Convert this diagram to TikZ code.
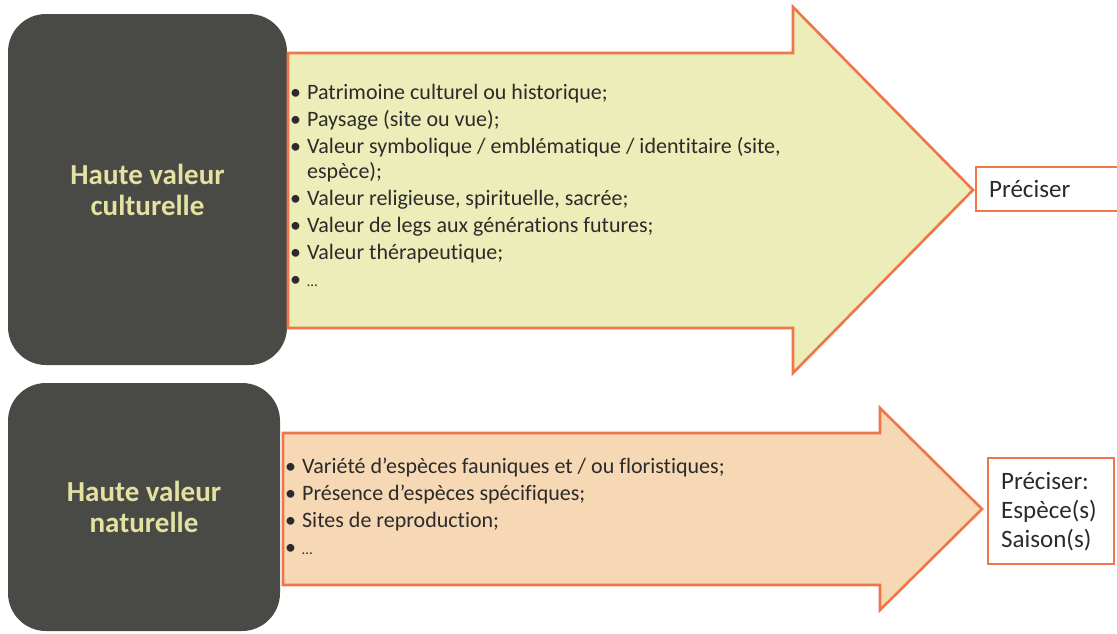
\documentclass[tikz,border=0pt]{standalone}
\usepackage{fontspec}
\setmainfont{Carlito}[Ligatures=NoCommon]
\definecolor{darkfill}{HTML}{494A45}
\definecolor{titlecol}{HTML}{E4E2A2}
\definecolor{orangeline}{HTML}{EF7649}
\definecolor{yelfill}{HTML}{EDEDB9}
\definecolor{peachfill}{HTML}{F6D8B4}
\definecolor{txtcol}{HTML}{2B2B2B}
\begin{document}
\begin{tikzpicture}[x=1pt,y=-1pt,
  darkbox/.style={fill=darkfill, rounded corners=38pt, text=titlecol, inner sep=0pt,
    font=\bfseries\fontsize{29}{31}\selectfont, align=center},
  arrowshape/.style={draw=orangeline, line width=2.6pt, line join=miter},
  listtxt/.style={text=txtcol, inner sep=0pt, font=\fontsize{22}{27}\selectfont},
  precbox/.style={draw=orangeline, line width=2.4pt, fill=white, text=txtcol,
    inner xsep=13pt, inner ysep=0pt, align=left, font=\fontsize{25}{29}\selectfont}]
\useasboundingbox (0,0) rectangle (1117,633);
\fill[white] (0,0) rectangle (1117,633);

% top row
\node[darkbox, minimum width=279pt, minimum height=351pt] (hvc) at (147.5,189.5) {Haute valeur\\culturelle};
\draw[arrowshape, fill=yelfill] (288,53) -- (793,53) -- (793,7) -- (973,190) -- (793,373) -- (793,328) -- (288,328) -- cycle;
\node[listtxt, anchor=base west] (l1) at (290,99) {%
  \begin{tabular}[t]{@{}l@{\hspace{6pt}}l@{}}
  \textbullet & Patrimoine culturel ou historique;\\
  \textbullet & Paysage (site ou vue);\\
  \textbullet & Valeur symbolique / emblématique / identitaire (site,\\[-2pt]
              & espèce);\\
  \textbullet & Valeur religieuse, spirituelle, sacrée;\\
  \textbullet & Valeur de legs aux générations futures;\\
  \textbullet & Valeur thérapeutique;\\
  \textbullet & {\fontsize{15}{27}\selectfont …}
  \end{tabular}};
\node[precbox, anchor=west, minimum height=44pt, text width=124pt] (p1) at (975,189) {Préciser};

% bottom row
\node[darkbox, minimum width=272pt, minimum height=248pt] (hvn) at (144,507) {Haute valeur\\naturelle};
\draw[arrowshape, fill=peachfill] (283,433) -- (880,433) -- (880,408) -- (982,509) -- (880,610) -- (880,585) -- (283,585) -- cycle;
\node[listtxt, anchor=base west] (l2) at (285,473) {%
  \begin{tabular}[t]{@{}l@{\hspace{6pt}}l@{}}
  \textbullet & Variété d’espèces fauniques et / ou floristiques;\\
  \textbullet & Présence d’espèces spécifiques;\\
  \textbullet & Sites de reproduction;\\
  \textbullet & {\fontsize{15}{27}\selectfont …}
  \end{tabular}};
\node[precbox, anchor=north west, minimum height=106pt, text width=100pt] (p2) at (987,457) {Préciser:\\Espèce(s)\\Saison(s)};
\end{tikzpicture}
\end{document}
